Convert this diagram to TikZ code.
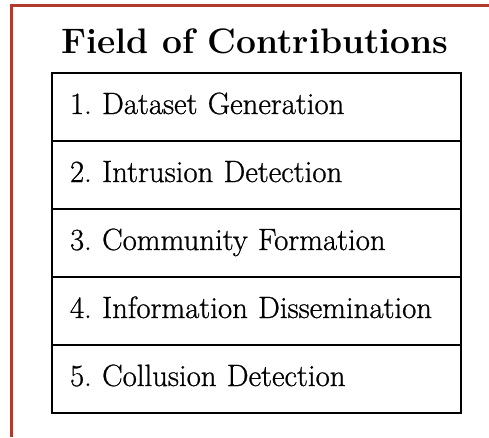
\documentclass[tikz,border=0pt]{standalone}
\usepackage{fontspec}
\newfontfamily\cellfont{Latin Modern Roman}[RawFeature={embolden=0.8}]
\frenchspacing
\begin{document}
\begin{tikzpicture}[x=1pt,y=-1pt,
  frameline/.style={draw=frame, line width=3pt},
  cell/.style={draw=black, line width=1.5pt, rectangle,
    minimum width=409pt, minimum height=68pt, inner xsep=18pt, inner ysep=0pt,
    text width=373pt, text height=21pt, text depth=7pt, align=left,
    anchor=north west, font=\cellfont\fontsize{30.8}{34}\selectfont},
  titletext/.style={font=\fontsize{35.4}{40}\selectfont\bfseries, anchor=base}
]
\definecolor{frame}{HTML}{B03A2E}
\useasboundingbox (0,0) rectangle (489,437);
\fill[white] (0,0) rectangle (489,437);
% frame along the left and top edges
\coordinate (fb) at (11,437);
\coordinate (fc) at (11,5);
\coordinate (fr) at (489,5);
\draw[frameline] (fb) -- (fc) -- (fr);
% heading
\node[titletext] (title) at (255,53) {Field of Contributions};
% list of contributions
\node[cell] (r1) at (51.25,72.25)  {1. Dataset Generation};
\node[cell] (r2) at (51.25,140.25) {2. Intrusion Detection};
\node[cell] (r3) at (51.25,208.25) {3. Community Formation};
\node[cell] (r4) at (51.25,276.25) {4. Information Dissemination};
\node[cell] (r5) at (51.25,344.25) {5. Collusion Detection};
\end{tikzpicture}
\end{document}
